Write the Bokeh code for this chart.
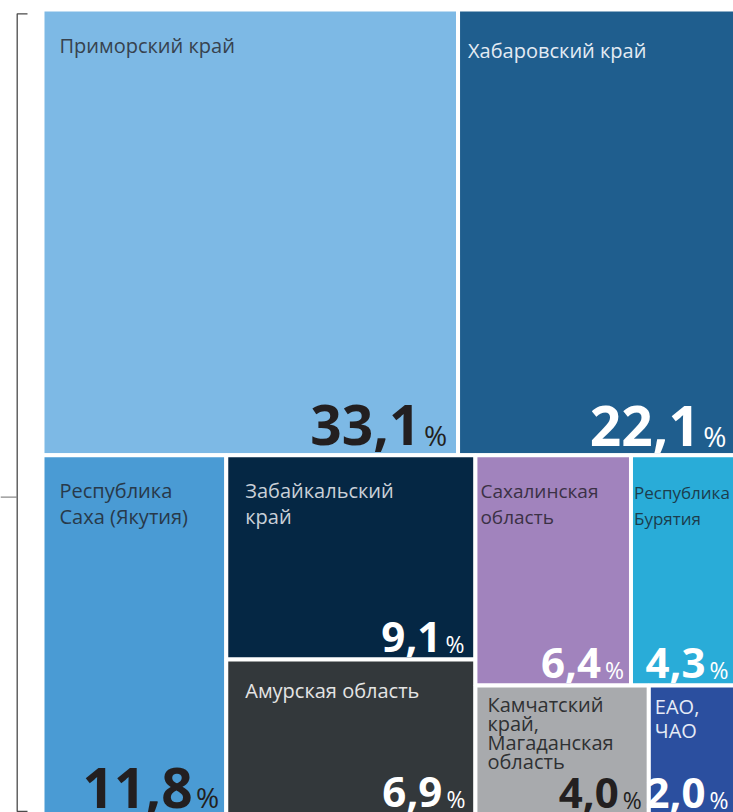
from bokeh.plotting import figure
from bokeh.models import Range1d, ColumnDataSource
from bokeh.embed import file_html
from bokeh.resources import INLINE
from bokeh.core.properties import value

# ---------------- data ----------------
regions = [
    "Приморский край",
    "Хабаровский край",
    "Республика\nСаха (Якутия)",
    "Забайкальский\nкрай",
    "Амурская область",
    "Сахалинская\nобласть",
    "Республика\nБурятия",
    "Камчатский\nкрай,\nМагаданская\nобласть",
    "ЕАО,\nЧАО",
]
shares = [33.1, 22.1, 11.8, 9.1, 6.9, 6.4, 4.3, 4.0, 2.0]
share_labels = [f"{v:.1f}".replace(".", ",") for v in shares]

# treemap grouping: "h" = side by side, "v" = stacked
tree = ("v", [("h", [0, 1]),
              ("h", [2, ("v", [3, 4]), ("v", [("h", [5, 6]), ("h", [7, 8])])])])

# ---------------- styles ----------------
fill_colors = ["#7db9e5", "#1f5e8e", "#4a9bd4", "#052744", "#33383b",
               "#a183bd", "#29acd8", "#a8aaad", "#2b4f9f"]
label_colors = ["#37424e", "#e3ebf3", "#28394a", "#c9d0d8", "#e4e4e4",
                "#3b3145", "#1c3d4d", "#2f3133", "#e6ebf6"]
num_colors = ["#231f20", "#ffffff", "#231f20", "#ffffff", "#ffffff",
              "#ffffff", "#ffffff", "#231f20", "#ffffff"]
label_pad = [(15, 41), (8, 46), (15, 41), (17, 41), (17, 36),
             (3, 41), (1, 41), (10, 24), (4, 26)]
label_size = [20, 20, 20, 20, 20, 19, 17, 20, 20]
label_lead = [26, 26, 26, 26, 26, 26, 26, 19, 24]
num_size = [55, 55, 55, 42, 42, 42, 42, 42, 42]
pct_size = [28, 28, 28, 23, 23, 23, 23, 23, 23]
num_pad_r = [9, 7, 5, 9, 8, 5, 5, 5, 5]
num_pad_b = [8, 7, 5, 5.5, 5, 5.5, 5, 4, 4]
BASE_FIX = 0.36  # shift from renderer's baseline to the glyph baseline (em)

GAP = 4
HALF = GAP / 2
X0, Y0, X1, Y1 = 44 - HALF, 11 - HALF, 733 + HALF, 812 + HALF


def weight(node):
    if isinstance(node, int):
        return shares[node]
    return sum(weight(c) for c in node[1])


def place(node, x0, y0, x1, y1, out):
    if isinstance(node, int):
        out[node] = (x0, y0, x1, y1)
        return
    d, children = node
    total = weight(node)
    pos = x0 if d == "h" else y0
    for c in children:
        frac = weight(c) / total
        if d == "h":
            nxt = pos + (x1 - x0) * frac
            place(c, pos, y0, nxt, y1, out)
        else:
            nxt = pos + (y1 - y0) * frac
            place(c, x0, pos, x1, nxt, out)
        pos = nxt


rects = {}
place(tree, X0, Y0, X1, Y1, rects)
n = len(shares)

rect_src = ColumnDataSource(dict(
    left=[rects[i][0] for i in range(n)],
    right=[rects[i][2] for i in range(n)],
    top=[rects[i][1] for i in range(n)],
    bottom=[rects[i][3] for i in range(n)],
    color=fill_colors,
))

# label lines
lx, ly, lt, lc, ls = [], [], [], [], []
for i in range(n):
    vx0 = rects[i][0] + HALF
    vy0 = rects[i][1] + HALF
    for k, line in enumerate(regions[i].split("\n")):
        lx.append(vx0 + label_pad[i][0])
        ly.append(vy0 + label_pad[i][1] + k * label_lead[i] - BASE_FIX * label_size[i])
        lt.append(line)
        lc.append(label_colors[i])
        ls.append(f"{label_size[i]}px")
label_src = ColumnDataSource(dict(x=lx, y=ly, text=lt, color=lc, size=ls))

# numbers and percent signs
nx, ny, px_, py_, nc, nsz, psz = [], [], [], [], [], [], []
for i in range(n):
    vx1 = rects[i][2] - HALF
    vy1 = rects[i][3] - HALF
    pr = vx1 - num_pad_r[i]
    base = vy1 - num_pad_b[i]
    px_.append(pr)
    py_.append(base - BASE_FIX * pct_size[i])
    nx.append(pr - (0.72 * pct_size[i] + 6.5))
    ny.append(base - BASE_FIX * num_size[i])
    nc.append(num_colors[i])
    nsz.append(f"{num_size[i]}px")
    psz.append(f"{pct_size[i]}px")
num_src = ColumnDataSource(dict(x=nx, y=ny, text=share_labels, color=nc, size=nsz))
pct_src = ColumnDataSource(dict(x=px_, y=py_, text=["%"] * n, color=nc, size=psz))

# ---------------- figure ----------------
p = figure(width=733, height=812, output_backend="svg", toolbar_location=None,
           x_range=Range1d(0, 733), y_range=Range1d(812, 0),
           min_border=0, background_fill_color="white", border_fill_color="white")
p.axis.visible = False
p.grid.visible = False
p.outline_line_color = None

# bracket on the left
p.line(x=[27, 16.7, 16.7, 27], y=[13.3, 13.3, 811, 811], line_color="#4a4a4a", line_width=1.3)
p.line(x=[0, 16.7], y=[496.7, 496.7], line_color="#8a8a8a", line_width=1.3)

p.quad(left="left", right="right", top="top", bottom="bottom", source=rect_src,
       fill_color="color", line_color="white", line_width=GAP)

p.text(x="x", y="y", text="text", source=label_src, text_color="color",
       text_font_size="size", text_font=value("Open Sans"),
       text_align="left", text_baseline="alphabetic")
p.text(x="x", y="y", text="text", source=num_src, text_color="color",
       text_font_size="size", text_font=value("Open Sans"), text_font_style="bold",
       text_align="right", text_baseline="alphabetic")
p.text(x="x", y="y", text="text", source=pct_src, text_color="color",
       text_font_size="size", text_font=value("Open Sans"),
       text_align="right", text_baseline="alphabetic")

open("out.html", "w").write(file_html(p, INLINE, title="Treemap"))
